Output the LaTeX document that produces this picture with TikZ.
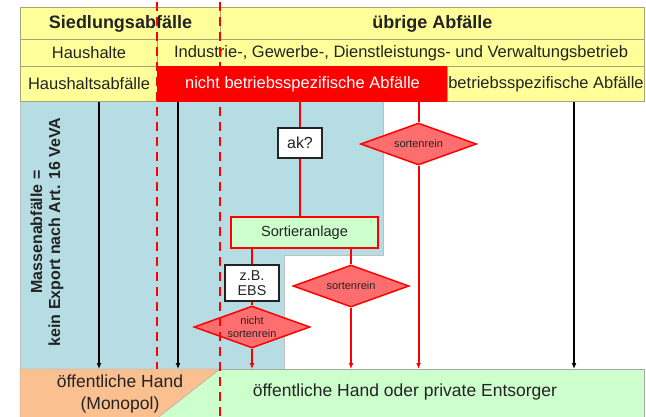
\documentclass[tikz,border=0pt]{standalone}
\usepackage{fontspec}
\setmainfont{Liberation Sans}
\usetikzlibrary{shapes.geometric,arrows.meta}
\definecolor{hdr}{RGB}{255,255,153}
\definecolor{hdrline}{RGB}{165,165,120}
\definecolor{bluezone}{RGB}{183,221,228}
\definecolor{greenbox}{RGB}{204,255,204}
\definecolor{orangebox}{RGB}{250,192,144}
\definecolor{diafill}{RGB}{255,110,110}
\definecolor{ink}{RGB}{35,35,35}
\tikzstyle{cell}=[draw=hdrline,fill=hdr,anchor=north west,inner sep=0pt,line width=1pt,text=ink]
\tikzstyle{check}=[diamond,draw=red,fill=diafill,line width=1.5pt,inner sep=0pt,aspect=2.75,minimum width=116pt,minimum height=42pt,text=ink,font=\fontsize{11}{12}\selectfont]
\tikzstyle{frame}=[draw=ink,fill=white,line width=1.2pt,inner sep=3pt,text=ink]
\tikzstyle{flow}=[line width=1.5pt,-{Latex[length=6pt,width=5pt]}]
\tikzstyle{redline}=[red,line width=2pt]
\tikzstyle{redflow}=[redline,-{Latex[length=6pt,width=5pt]}]
\tikzstyle{border}=[red,line width=2pt,dash pattern=on 9pt off 6pt]

\begin{document}
\begin{tikzpicture}[x=1pt,y=-1pt,font=\fontsize{16.5}{19}\selectfont]
  \useasboundingbox (0,0) rectangle (646,416);
  \clip (0,0) rectangle (646,416);
  \filldraw[fill=bluezone,draw=gray!50] (20,101) -- (383,101) -- (383,255) -- (284,255) -- (284,369) -- (20,369) -- cycle;

  \node[cell,minimum width=200pt,minimum height=32pt,font=\fontsize{18}{20}\bfseries] (sa) at (20,7) {Siedlungsabfälle};
  \node[cell,minimum width=424pt,minimum height=32pt,font=\fontsize{18}{20}\bfseries] (ua) at (220,7) {übrige Abfälle};
  \node[cell,minimum width=137pt,minimum height=27pt] (hh) at (20,39) {Haushalte};
  \node[cell,minimum width=487pt,minimum height=27pt] (ig) at (157,39) {Industrie-, Gewerbe-, Dienstleistungs- und Verwaltungsbetrieb};
  \node[cell,minimum width=137pt,minimum height=35pt] (haf) at (20,66) {Haushaltsabfälle};
  \node[cell,minimum width=290pt,minimum height=35pt,fill=red,draw=red,text=white] (nbs) at (157,66) {nicht betriebsspezifische Abfälle};
  \node[cell,minimum width=197pt,minimum height=35pt] (bs) at (447,66) {betriebsspezifische Abfälle};

  \node[cell,fill=greenbox,draw=gray!70,minimum width=624pt,minimum height=60pt] (priv) at (20,369) {};
  \filldraw[fill=orangebox,draw=gray!70] (20,369) -- (220,369) -- (148.5,425) -- (20,425) -- cycle;
  \node[align=center,text=ink,font=\fontsize{17.5}{22}\selectfont] (hand) at (120,394) {öffentliche Hand\\(Monopol)};
  \node[text=ink,font=\fontsize{17.5}{20}\selectfont] (privtext) at (405,392) {öffentliche Hand oder private Entsorger};

  \node[rotate=90,align=center,text=ink,font=\fontsize{16}{18}\bfseries] (mass) at (47,232) {Massenabfälle =\\kein Export nach Art. 16 VeVA};

  \node[frame,minimum width=44pt,minimum height=30pt,font=\fontsize{16}{18}\selectfont] (ak) at (300,143) {ak?};
  \node[frame,draw=red,fill=greenbox,line width=2.5pt,minimum width=147pt,minimum height=31pt,font=\fontsize{14.6}{17}\selectfont] (sort) at (304.5,232.5) {Sortieranlage};
  \node[frame,align=center,minimum width=54pt,minimum height=36pt,inner sep=1pt,font=\fontsize{14.3}{15}\selectfont] (ebs) at (252,283) {z.B.\\EBS};
  \node[check] (d1) at (418.5,144) {sortenrein};
  \node[check] (d2) at (351,286) {sortenrein};
  \node[check,align=center,font=\fontsize{11}{13}\selectfont] (d3) at (252,327) {nicht\\sortenrein};

  \foreach \x/\top [count=\i] in {99/haf,178/nbs,574/bs}{
    \coordinate (m\i) at (\x,0);
    \draw[flow] (\top.south -| m\i) -- (priv.north -| m\i);
  }
  \draw[redline] (nbs.south -| ak) -- (ak);
  \draw[redline] (ak) -- (ak |- sort.north);
  \draw[redline] (nbs.south -| d1) -- (d1);
  \draw[redflow] (d1) -- (d1 |- priv.north);
  \draw[redline] (sort.south -| ebs) -- (ebs) -- (d3);
  \draw[redflow] (d3) -- (d3 |- priv.north);
  \draw[redline] (sort.south -| d2) -- (d2);
  \draw[redflow] (d2) -- (d2 |- priv.north);

  \draw[border] (157,2) -- (157,369);
  \draw[border] (220,2) -- (220,420);
\end{tikzpicture}
\end{document}
